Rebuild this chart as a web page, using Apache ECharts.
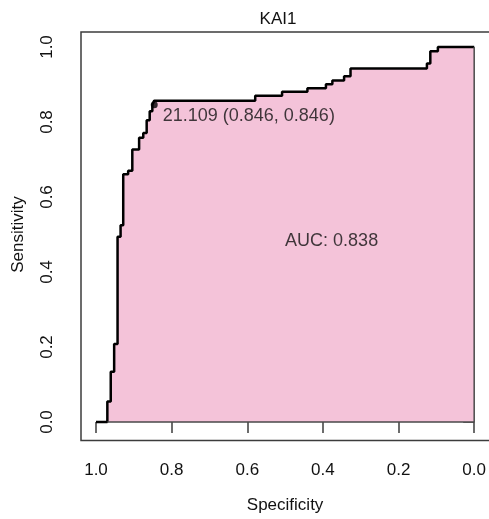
<!DOCTYPE html>
<html>
<head>
<meta charset="utf-8">
<script src="https://cdn.jsdelivr.net/npm/echarts@6/dist/echarts.min.js"></script>
<style>html,body{margin:0;padding:0;background:#fff}#c{width:489px;height:519px}</style>
</head>
<body>
<div id="c"></div>
<script>
// ROC curve corner points (specificity, sensitivity)
var specificity = [1.0, 0.970, 0.970, 0.961, 0.961, 0.952, 0.952, 0.943, 0.943, 0.935, 0.935, 0.928, 0.928, 0.915, 0.915, 0.904, 0.904, 0.886, 0.886, 0.875, 0.875, 0.866, 0.866, 0.858, 0.858, 0.851, 0.851, 0.846, 0.846, 0.579, 0.579, 0.508, 0.508, 0.441, 0.441, 0.392, 0.392, 0.375, 0.375, 0.344, 0.344, 0.327, 0.327, 0.125, 0.125, 0.116, 0.116, 0.096, 0.096, 0.0];
var sensitivity = [0.0, 0.0, 0.055, 0.055, 0.134, 0.134, 0.208, 0.208, 0.494, 0.494, 0.525, 0.525, 0.661, 0.661, 0.670, 0.670, 0.727, 0.727, 0.758, 0.758, 0.771, 0.771, 0.805, 0.805, 0.829, 0.829, 0.846, 0.846, 0.857, 0.857, 0.870, 0.870, 0.881, 0.881, 0.890, 0.890, 0.901, 0.901, 0.911, 0.911, 0.922, 0.922, 0.943, 0.943, 0.956, 0.956, 0.989, 0.989, 1.0, 1.0];
var tickValues = [0, 0.2, 0.4, 0.6, 0.8, 1.0];
var bestThreshold = 21.109;
var bestPoint = [0.846, 0.846];
var aucValue = 0.838;
var aucPosition = [0.5, 0.5];
var titleText = 'KAI1';

var FONT = '"Liberation Sans", Arial, Helvetica, sans-serif';
var TXT = '#111111';
var AX = '#3c3c3c';

var curve = specificity.map(function (s, i) { return [s, sensitivity[i]]; });
var lastIdx = specificity.length - 1;
var border = [[specificity[1], 0], [specificity[lastIdx], 0], [specificity[lastIdx], sensitivity[lastIdx]]];

var chart = echarts.init(document.getElementById('c'), null, {renderer: 'canvas'});
chart.setOption({
  animation: false,
  backgroundColor: '#ffffff',
  title: {
    text: titleText, left: 273, top: 6, textAlign: 'center',
    textStyle: {fontFamily: FONT, fontSize: 17, fontWeight: 'normal', color: TXT}
  },
  grid: {left: 96, top: 47, width: 380, height: 379},
  xAxis: {
    type: 'value', min: 0, max: 1, interval: 0.2, inverse: true, offset: 15,
    axisLine: {show: false}, splitLine: {show: false},
    axisTick: {show: true, length: 11, lineStyle: {color: AX, width: 1.5}},
    axisLabel: {margin: 25, fontFamily: FONT, fontSize: 17, color: TXT,
      formatter: function (v) { return v.toFixed(1); }},
    name: 'Specificity', nameLocation: 'middle', nameGap: 60,
    nameTextStyle: {fontFamily: FONT, fontSize: 17, color: TXT}
  },
  yAxis: {
    type: 'value', min: 0, max: 1, interval: 0.2, offset: 15,
    axisLine: {show: false}, splitLine: {show: false},
    axisTick: {show: true, length: 11, lineStyle: {color: AX, width: 1.5}},
    axisLabel: {margin: 25, rotate: 90, fontFamily: FONT, fontSize: 17, color: TXT,
      formatter: function (v) { return v.toFixed(1); }},
    name: 'Sensitivity', nameLocation: 'middle', nameGap: 54,
    nameTextStyle: {fontFamily: FONT, fontSize: 17, color: TXT}
  },
  graphic: [{
    type: 'rect', silent: true, z: 100,
    shape: {x: 81, y: 32, width: 410, height: 408.5},
    style: {fill: null, stroke: AX, lineWidth: 1.5}
  }],
  series: [
    {
      type: 'line', data: curve, showSymbol: false, symbol: 'none', clip: false,
      lineStyle: {color: '#000', width: 2.5},
      areaStyle: {color: '#f4c3d9', opacity: 1},
      z: 2
    },
    {
      type: 'line', data: border, symbol: 'none', clip: false,
      lineStyle: {color: '#4a4a4a', width: 1.5}, z: 3
    },
    {
      type: 'scatter', data: [bestPoint], symbol: 'circle', symbolSize: 7,
      itemStyle: {color: '#000'}, z: 5, clip: false,
      label: {show: true, position: 'right', distance: 5, offset: [0, 11],
        formatter: function () { return bestThreshold.toFixed(3) + ' (' + bestPoint[0].toFixed(3) + ', ' + bestPoint[1].toFixed(3) + ')'; },
        fontFamily: FONT, fontSize: 18, color: TXT}
    },
    {
      type: 'scatter', data: [aucPosition], symbolSize: 0, z: 5,
      label: {show: true, position: 'right', distance: 0, offset: [0, 7],
        formatter: function () { return 'AUC: ' + aucValue.toFixed(3); },
        fontFamily: FONT, fontSize: 18, color: TXT}
    }
  ]
});
</script>
</body>
</html>
